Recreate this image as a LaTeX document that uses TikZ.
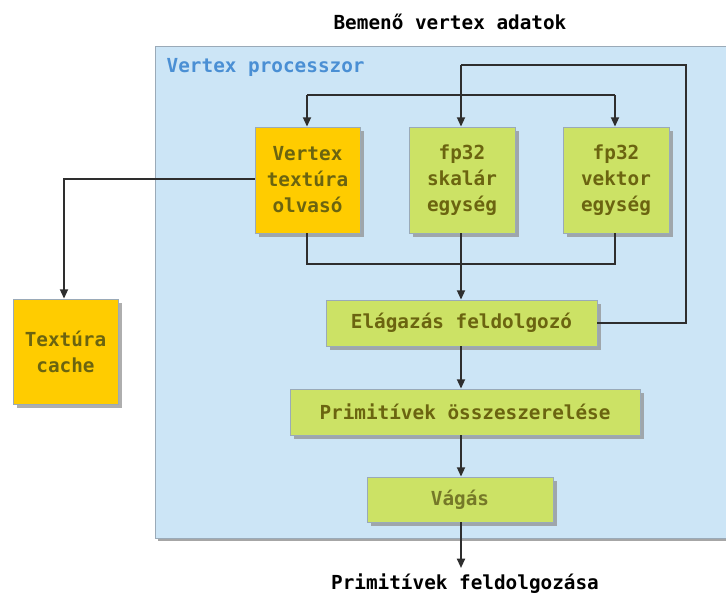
\documentclass[tikz,border=0pt]{standalone}
\usepackage{fontspec}
\setmonofont{DejaVu Sans Mono}
\usetikzlibrary{arrows.meta,shadows}
\definecolor{panelblue}{HTML}{CCE5F6}
\definecolor{panelborder}{HTML}{9AAAB8}
\definecolor{labelblue}{HTML}{4A8FD4}
\definecolor{gold}{HTML}{FFCC00}
\definecolor{lime}{HTML}{CCE265}
\definecolor{olive}{HTML}{6B6410}
\definecolor{wire}{HTML}{2E2E2E}
\tikzset{
  txt/.style={font=\ttfamily\bfseries\fontsize{14.5}{19.5}\selectfont},
  unit/.style={txt, draw=panelborder, line width=0.6pt, align=center, text=olive,
    inner sep=0pt, drop shadow={shadow xshift=3pt, shadow yshift=-3pt, fill=black!45, opacity=0.7}},
  goldbox/.style={unit, fill=gold},
  limebox/.style={unit, fill=lime},
  wireline/.style={draw=wire, line width=1.4pt},
  arr/.style={wireline, -{Triangle[length=7pt,width=6pt]}},
}
\begin{document}
\begin{tikzpicture}[x=0.75pt,y=-0.75pt]
\useasboundingbox (0,0) rectangle (726,596);
% processor panel
\fill[black!35] (158,49) rectangle (729,541);
\fill[panelblue, draw=panelborder, line width=0.6pt] (155,46) rectangle (728,538);
\node[txt, text=labelblue, anchor=west] (plabel) at (162,67) {Vertex processzor};
% outer captions
\node[txt, text=black] (inlabel) at (450,22) {Bemenő vertex adatok};
\node[txt, text=black] (outlabel) at (465,584) {Primitívek feldolgozása};
% units
\node[goldbox, minimum width=105*0.75pt, minimum height=106*0.75pt] (tex) at (307.5,180) {Vertex\\textúra\\olvasó};
\node[limebox, minimum width=106*0.75pt, minimum height=106*0.75pt] (scal) at (462,180) {fp32\\skalár\\egység};
\node[limebox, minimum width=106*0.75pt, minimum height=106*0.75pt] (vect) at (616,180) {fp32\\vektor\\egység};
\node[goldbox, minimum width=105*0.75pt, minimum height=105*0.75pt] (cache) at (65.5,351.5) {Textúra\\cache};
\node[limebox, minimum width=271*0.75pt, minimum height=46*0.75pt] (branch) at (461.5,323) {Elágazás feldolgozó};
\node[limebox, minimum width=350*0.75pt, minimum height=46*0.75pt] (asm) at (465,412) {Primitívek összeszerelése};
\node[limebox, minimum width=186*0.75pt, minimum height=45*0.75pt, text=olive!60!lime!80!black] (clip) at (460,499.5) {Vágás};
% wiring points
\coordinate (ftop) at (461,65);
\coordinate (fright) at (686,65);
\coordinate (dl) at (307,95);
\coordinate (dr) at (615,95);
\coordinate (jl) at (307,264);
\coordinate (jm) at (461,264);
\coordinate (jr) at (615,264);
\coordinate (cl) at (64,179);
\coordinate (outend) at (461,568);
% feedback from the branch unit to the top
\draw[wireline] (branch.east) -| (fright) -- (ftop);
\draw[arr] (ftop) -- (scal.north -| ftop);
% distribution bus
\draw[wireline] (dl) -- (dr);
\draw[arr] (dl) -- (tex.north -| dl);
\draw[arr] (dr) -- (vect.north -| dr);
% collection bus
\draw[wireline] (tex.south -| jl) -- (jl) -- (jr) -- (vect.south -| jr);
\draw[wireline] (scal.south -| jm) -- (jm);
\draw[arr] (jm) -- (branch.north -| jm);
% texture path
\draw[arr] (tex.west |- cl) -- (cl) -- (cache.north -| cl);
% pipeline
\draw[arr] (branch.south -| jm) -- (asm.north -| jm);
\draw[arr] (asm.south -| jm) -- (clip.north -| jm);
\draw[arr] (clip.south -| jm) -- (outend);
\end{tikzpicture}
\end{document}
